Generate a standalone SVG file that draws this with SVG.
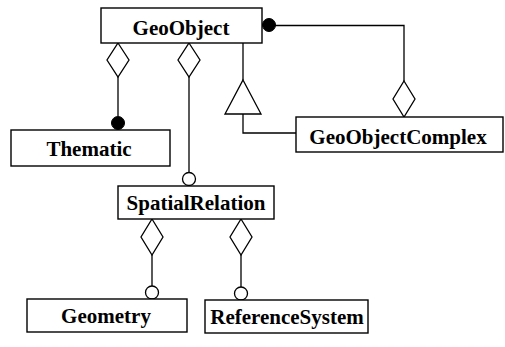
<svg xmlns="http://www.w3.org/2000/svg" width="505" height="347" viewBox="0 0 505 347">
  <style>
    .box { fill: #fff; stroke: #000; stroke-width: 1.4; }
    .lbl { font-family: "Liberation Serif", "Times New Roman", serif; font-weight: bold; font-size: 21px; text-anchor: middle; fill: #000; }
    .ln { fill: none; stroke: #000; stroke-width: 1.3; }
    .dia { fill: #fff; stroke: #000; stroke-width: 1.3; }
    .dot { fill: #000; stroke: #000; stroke-width: 1; }
    .ring { fill: #fff; stroke: #000; stroke-width: 1.3; }
  </style>
  <rect width="505" height="347" fill="#fff"/>

  <g id="connectors">
    <!-- GeoObject to Thematic -->
    <polygon class="dia" points="118,43 129,60 118,77 107,60"/>
    <line class="ln" x1="118" y1="77" x2="118" y2="116"/>
    <circle class="dot" cx="118" cy="123" r="6.5"/>
    <!-- GeoObject to SpatialRelation -->
    <polygon class="dia" points="189,43 200,60 189,77 178,60"/>
    <line class="ln" x1="189" y1="77" x2="189" y2="172"/>
    <circle class="ring" cx="189" cy="179" r="6.5"/>
    <!-- generalization: GeoObjectComplex is a GeoObject -->
    <line class="ln" x1="243" y1="43" x2="243" y2="80"/>
    <polygon class="dia" points="243,80 261,114 225,114"/>
    <polyline class="ln" points="243,114 243,133 296,133"/>
    <!-- GeoObjectComplex aggregates GeoObject -->
    <circle class="dot" cx="269" cy="25" r="6.5"/>
    <polyline class="ln" points="275,25.5 404,25.5 404,81"/>
    <polygon class="dia" points="404,81 415,99 404,117 393,99"/>
    <!-- SpatialRelation to Geometry -->
    <polygon class="dia" points="152,219 163,237 152,255 141,237"/>
    <line class="ln" x1="152" y1="255" x2="152" y2="286"/>
    <circle class="ring" cx="152" cy="292.5" r="6.5"/>
    <!-- SpatialRelation to ReferenceSystem -->
    <polygon class="dia" points="241,219 252,237 241,255 230,237"/>
    <line class="ln" x1="241" y1="255" x2="241" y2="287"/>
    <circle class="ring" cx="241" cy="293.5" r="6.5"/>
  </g>

  <g id="geoobject">
    <rect class="box" x="101" y="8" width="161" height="35"/>
    <text class="lbl" x="181" y="35">GeoObject</text>
  </g>
  <g id="thematic">
    <rect class="box" x="11" y="130" width="159" height="36"/>
    <text class="lbl" x="89" y="156">Thematic</text>
  </g>
  <g id="geoobjectcomplex">
    <rect class="box" x="296" y="117" width="207" height="35"/>
    <text class="lbl" x="398" y="144">GeoObjectComplex</text>
  </g>
  <g id="spatialrelation">
    <rect class="box" x="118" y="186" width="156" height="33"/>
    <text class="lbl" x="196" y="210">SpatialRelation</text>
  </g>
  <g id="geometry">
    <rect class="box" x="27" y="299" width="160" height="33"/>
    <text class="lbl" x="106" y="323">Geometry</text>
  </g>
  <g id="referencesystem">
    <rect class="box" x="205" y="300" width="163" height="33"/>
    <text class="lbl" x="287" y="324">ReferenceSystem</text>
  </g>
</svg>
